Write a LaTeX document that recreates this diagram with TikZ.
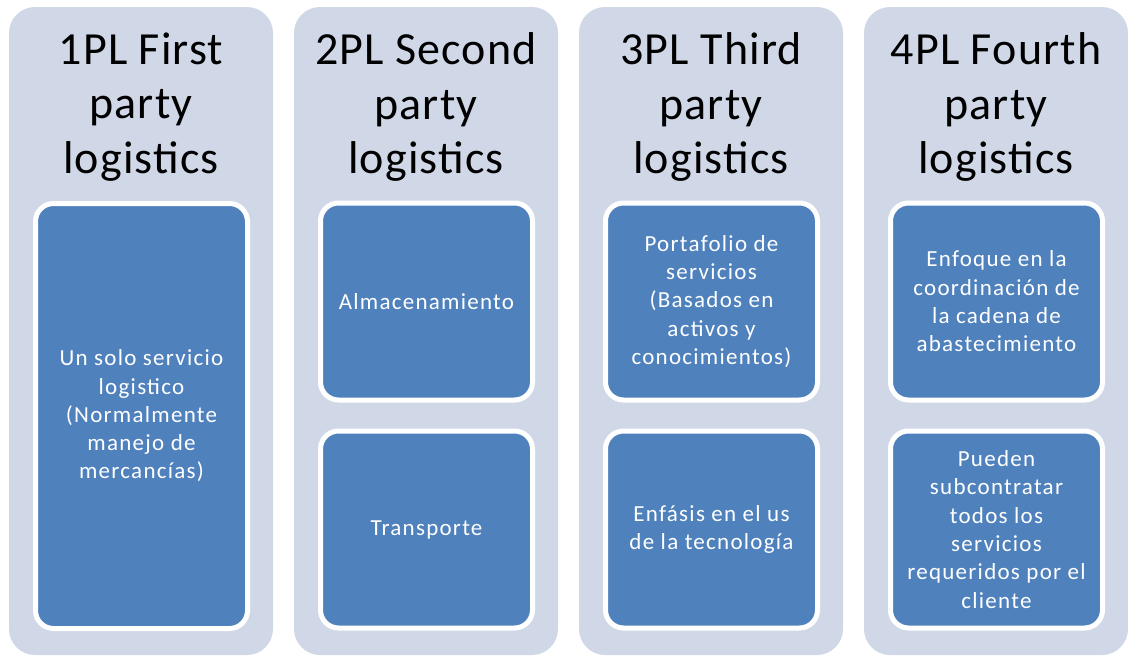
\documentclass[tikz,border=0pt]{standalone}
\usepackage{fontspec}
\setmainfont{Carlito}
\definecolor{colbg}{RGB}{208,216,232}
\definecolor{boxblue}{RGB}{79,129,189}
\begin{document}
\begin{tikzpicture}[x=1pt,y=-1pt,
  column/.style={rectangle, fill=colbg, rounded corners=26pt, minimum width=264pt, minimum height=648pt, inner sep=0pt},
  title/.style={align=center, font=\fontsize{46}{54.5}\selectfont\addfontfeature{LetterSpace=2.5}, text=black, inner sep=0pt},
  item/.style={rectangle, draw=white, line width=5pt, fill=boxblue, rounded corners=18pt, minimum width=212pt,
    align=center, font=\fontsize{23}{28.3}\selectfont\addfontfeature{LetterSpace=5.5}, text=white, inner sep=0pt},
  half/.style={item, minimum height=197pt},
  full/.style={item, minimum height=425pt}]
\useasboundingbox (0,0) rectangle (1128,656);
% columns
\node[column] (c1) at (141,331) {};
\node[column] (c2) at (426,331) {};
\node[column] (c3) at (711,331) {};
\node[column] (c4) at (996,331) {};
% titles
\node[title] (t1) at (141,107) {1PL First\\party\\logistics};
\node[title] (t2) at (426,107) {2PL Second\\party\\logistics};
\node[title] (t3) at (711,107) {3PL Third\\party\\logistics};
\node[title] (t4) at (996,107) {4PL Fourth\\party\\logistics};
% boxes
\node[full] (b1) at (141.5,416) {Un solo servicio\\logistico\\(Normalmente\\manejo de\\mercancías)};
\node[half] (b2a) at (426.5,301.5) {Almacenamiento};
\node[half] (b2b) at (426.5,529.5) {Transporte};
\node[half] (b3a) at (711.5,301.5) {Portafolio de\\servicios\\(Basados en\\activos y\\conocimientos)};
\node[half] (b3b) at (711.5,529.5) {Enfásis en el us\\de la tecnología};
\node[half] (b4a) at (996.5,301.5) {Enfoque en la\\coordinación de\\la cadena de\\abastecimiento};
\node[half] (b4b) at (996.5,529.5) {Pueden\\subcontratar\\todos los\\servicios\\requeridos por el\\cliente};
\end{tikzpicture}
\end{document}
